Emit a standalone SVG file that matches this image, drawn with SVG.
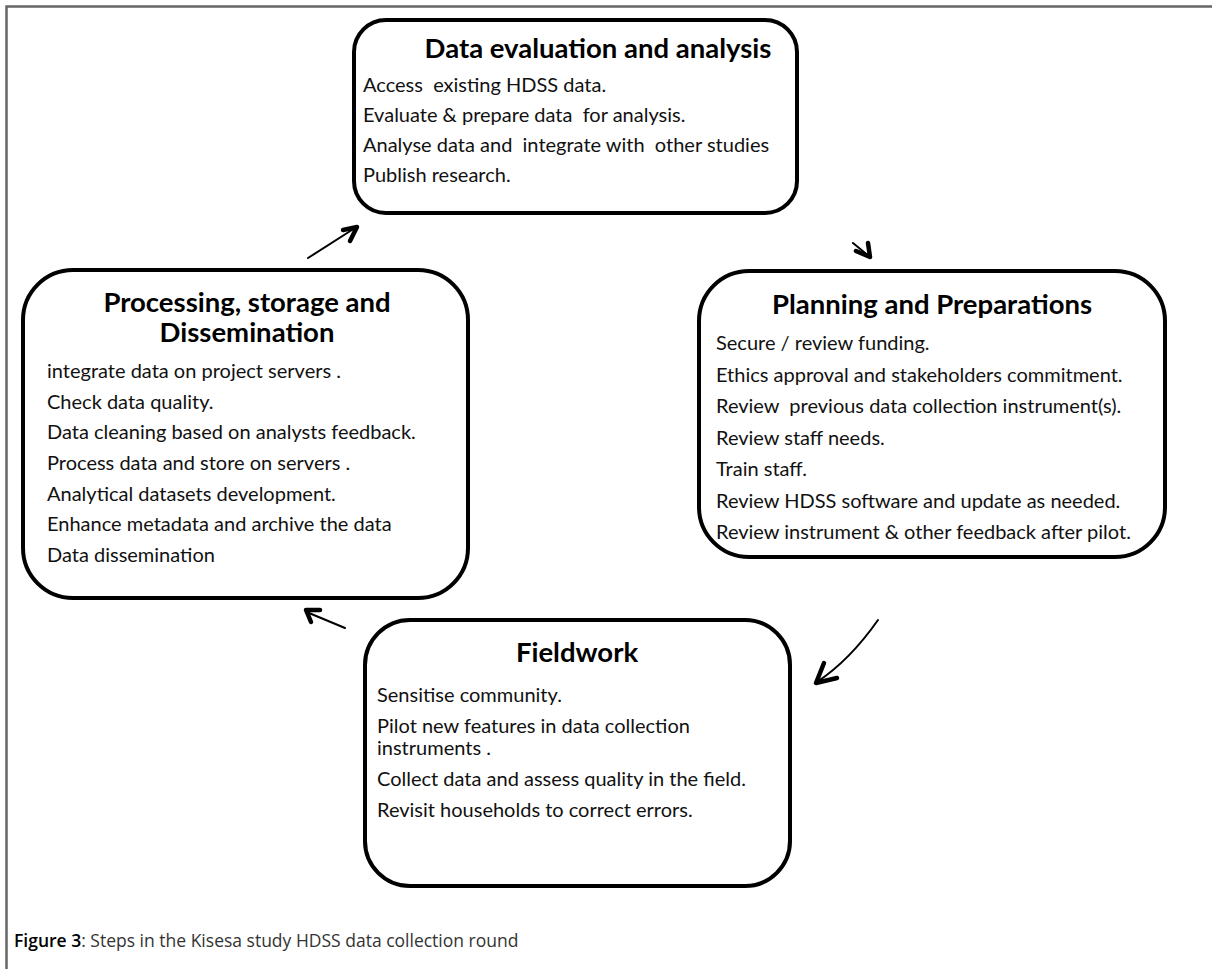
<svg xmlns="http://www.w3.org/2000/svg" width="1212" height="969" viewBox="0 0 1212 969">
<style>
.box{fill:#fff;stroke:#000;stroke-width:4}
.title{font-family:Lato,"Open Sans",sans-serif;font-weight:bold;font-size:27.5px;fill:#000;text-anchor:middle}
.body{font-family:Lato,"Open Sans",sans-serif;font-size:20px;fill:#111;white-space:pre}
.line{fill:none;stroke:#000;stroke-width:2;stroke-linecap:round}
.head{fill:none;stroke:#000;stroke-width:4.5;stroke-linecap:round;stroke-linejoin:round}
.cap{font-family:"Open Sans","Liberation Sans",sans-serif;font-size:17.5px;fill:#333}
</style>
<rect width="1212" height="969" fill="#fff"/>
<path d="M6.5 969 V6.5 H1212" fill="none" stroke="#666" stroke-width="2.5"/>

<g id="data-evaluation" xml:space="preserve">
<rect class="box" x="354" y="20" width="443" height="193" rx="32"/>
<text class="title" x="598" y="58">Data evaluation and analysis</text>
<text class="body" x="363" y="92">Access  existing HDSS data.</text>
<text class="body" x="363" y="122">Evaluate &amp; prepare data  for analysis.</text>
<text class="body" x="363" y="152">Analyse data and  integrate with  other studies</text>
<text class="body" x="363" y="182">Publish research.</text>
</g>

<g id="planning" xml:space="preserve">
<rect class="box" x="699" y="271" width="466" height="286" rx="50"/>
<text class="title" x="932" y="314">Planning and Preparations</text>
<text class="body" x="716" y="350">Secure / review funding.</text>
<text class="body" x="716" y="382">Ethics approval and stakeholders commitment.</text>
<text class="body" x="716" y="413">Review  previous data collection instrument(s).</text>
<text class="body" x="716" y="445">Review staff needs.</text>
<text class="body" x="716" y="476">Train staff.</text>
<text class="body" x="716" y="508">Review HDSS software and update as needed.</text>
<text class="body" x="716" y="539">Review instrument &amp; other feedback after pilot.</text>
</g>

<g id="processing" xml:space="preserve">
<rect class="box" x="23" y="270" width="445" height="328" rx="50"/>
<text class="title" x="247" y="312">Processing, storage and</text>
<text class="title" x="247" y="342">Dissemination</text>
<text class="body" x="47" y="378">integrate data on project servers .</text>
<text class="body" x="47" y="409">Check data quality.</text>
<text class="body" x="47" y="439">Data cleaning based on analysts feedback.</text>
<text class="body" x="47" y="470">Process data and store on servers .</text>
<text class="body" x="47" y="501">Analytical datasets development.</text>
<text class="body" x="47" y="531">Enhance metadata and archive the data</text>
<text class="body" x="47" y="562">Data dissemination</text>
</g>

<g id="fieldwork" xml:space="preserve">
<rect class="box" x="365" y="620" width="425" height="266" rx="45"/>
<text class="title" x="577" y="662">Fieldwork</text>
<text class="body" x="377" y="702">Sensitise community.</text>
<text class="body" x="377" y="733">Pilot new features in data collection</text>
<text class="body" x="377" y="755">instruments .</text>
<text class="body" x="377" y="786">Collect data and assess quality in the field.</text>
<text class="body" x="377" y="817">Revisit households to correct errors.</text>
</g>

<g id="connectors">
<path class="line" d="M308 258 L355 228"/>
<path class="head" d="M343 230 L357 227 L350 241"/>
<path class="line" d="M853 243 L870 257"/>
<path class="head" d="M856 251 L870 257 L868 243"/>
<path class="line" d="M878 620 Q850 660 817 682"/>
<path class="head" d="M824 663 L816 683 L837 678"/>
<path class="line" d="M345 628 L309 613"/>
<path class="head" d="M320 610 L306 610 L311 622"/>
</g>

<text class="cap" x="14" y="947"><tspan fill="#000" font-weight="600">Figure 3</tspan>: Steps in the Kisesa study HDSS data collection round</text>
</svg>
